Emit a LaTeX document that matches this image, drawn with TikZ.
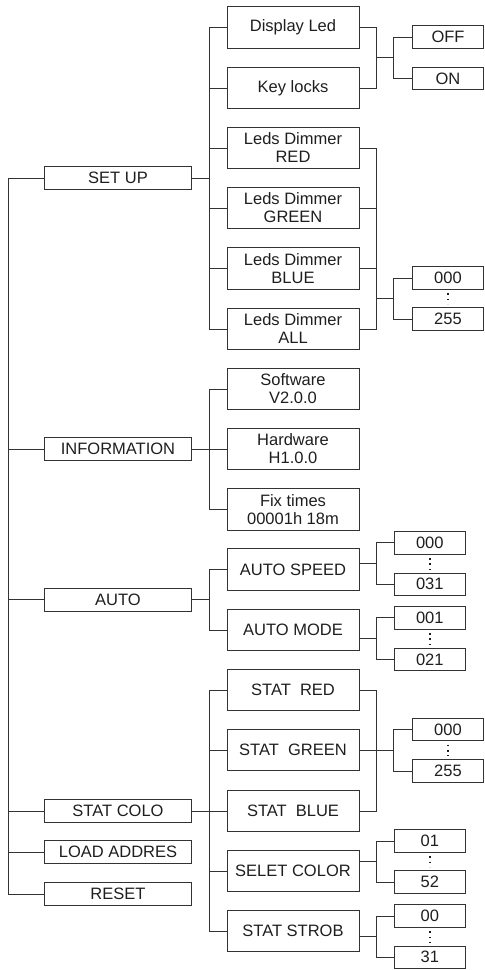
\documentclass[tikz,border=0pt]{standalone}
\usepackage{fontspec}
\setmainfont{Liberation Sans}
\usetikzlibrary{calc}
\definecolor{ink}{HTML}{333333}
\definecolor{print}{HTML}{1E1E1E}

\tikzset{
  box/.style={draw=ink, line width=0.9pt, text=print, inner sep=0pt, align=center,
    font=\fontsize{16.5}{18}\selectfont},
  menu/.style={box, minimum width=147.4pt, minimum height=23pt},
  sub/.style={box, minimum width=132pt, minimum height=41.7pt},
  val/.style={box, minimum width=70.7pt, minimum height=22.7pt},
  wire/.style={draw=ink, line width=0.9pt},
  dots/.style={draw=print, line width=1.6pt, dash pattern=on 1.6pt off 3.75pt}
}

\begin{document}
\begin{tikzpicture}[x=1pt, y=-1pt]
  \useasboundingbox (0,0) rectangle (485,970);

  % main menu
  \node[menu] (setup)    at (118,178)   {SET UP};
  \node[menu] (info)     at (118,449)   {INFORMATION};
  \node[menu] (auto)     at (118,599.7) {AUTO};
  \node[menu] (statcolo) at (118,811)   {STAT COLO};
  \node[menu] (load)     at (118,852)   {LOAD ADDRES};
  \node[menu] (reset)    at (118,894)   {RESET};

  % sub menus
  \node[sub] (disp)  at (293,27.5)  {Display Led};
  \node[sub] (key)   at (293,88)    {Key locks};
  \node[sub] (ldr)   at (293,148)   {Leds Dimmer\\RED};
  \node[sub] (ldg)   at (293,208)   {Leds Dimmer\\GREEN};
  \node[sub] (ldb)   at (293,268.5) {Leds Dimmer\\BLUE};
  \node[sub] (lda)   at (293,329)   {Leds Dimmer\\ALL};
  \node[sub] (sw)    at (293,389)   {Software\\V2.0.0};
  \node[sub] (hw)    at (293,449)   {Hardware\\H1.0.0};
  \node[sub] (fix)   at (293,509.5) {Fix times\\00001h 18m};
  \node[sub] (aspd)  at (293,569.7) {AUTO SPEED};
  \node[sub] (amode) at (293,630)   {AUTO MODE};
  \node[sub] (sred)  at (293,690)   {STAT~~RED};
  \node[sub] (sgrn)  at (293,750)   {STAT~~GREEN};
  \node[sub] (sblu)  at (293,811)   {STAT~~BLUE};
  \node[sub] (selet) at (293,871)   {SELET COLOR};
  \node[sub] (strob) at (293,931)   {STAT STROB};

  % values
  \node[val] (off)  at (448,37)    {OFF};
  \node[val] (on)   at (448,78.5)  {ON};
  \node[val] (d000) at (448,278)   {000};
  \node[val] (d255) at (448,319)   {255};
  \node[val] (a000) at (429.8,542.7) {000};
  \node[val] (a031) at (429.8,584.3) {031};
  \node[val] (m001) at (429.8,617.7) {001};
  \node[val] (m021) at (429.8,659.5) {021};
  \node[val] (s000) at (448,729.5) {000};
  \node[val] (s255) at (448,771)   {255};
  \node[val] (c01)  at (429.8,841)   {01};
  \node[val] (c52)  at (429.8,882)   {52};
  \node[val] (t00)  at (429.8,916)   {00};
  \node[val] (t31)  at (429.8,957.3) {31};

  % trunk on the left
  \coordinate (trunk) at ([xshift=-35.8pt]setup.west);
  \draw[wire] (setup.west) -- (trunk) |- (reset.west);
  \foreach \n in {info,auto,statcolo,load}
    \draw[wire] (\n.west) -- (\n.west -| trunk);

  % SET UP
  \coordinate (j1) at ([xshift=17.6pt]setup.east);
  \draw[wire] (setup.east) -- (j1);
  \draw[wire] (disp.west) -| (j1) |- (lda.west);
  \foreach \n in {key,ldr,ldg,ldb}
    \draw[wire] (\n.west) -- (\n.west -| j1);

  % INFORMATION
  \coordinate (j2) at ([xshift=17.6pt]info.east);
  \draw[wire] (info.east) -- (hw.west);
  \draw[wire] (sw.west) -| (j2) |- (fix.west);

  % AUTO
  \coordinate (j3) at ([xshift=17.6pt]auto.east);
  \draw[wire] (auto.east) -- (j3);
  \draw[wire] (aspd.west) -| (j3) |- (amode.west);

  % STAT COLO
  \coordinate (j4) at ([xshift=17.6pt]statcolo.east);
  \draw[wire] (statcolo.east) -- (sblu.west);
  \draw[wire] (sred.west) -| (j4) |- (strob.west);
  \foreach \n in {sgrn,selet}
    \draw[wire] (\n.west) -- (\n.west -| j4);

  % OFF / ON
  \coordinate (k1) at ($(off.west)!.5!(on.west) - (18.4,0)$);
  \coordinate (h1) at ($(k1) - (17.6,0)$);
  \draw[wire] (disp.east) -| (h1) |- (key.east);
  \draw[wire] (h1) -- (k1);
  \draw[wire] (off.west) -| (k1) |- (on.west);

  % dimmer values
  \coordinate (k2) at ($(d000.west)!.5!(d255.west) - (18.4,0)$);
  \coordinate (h2) at ($(k2) - (17.6,0)$);
  \draw[wire] (ldr.east) -| (h2) |- (lda.east);
  \foreach \n in {ldg,ldb}
    \draw[wire] (\n.east) -- (\n.east -| h2);
  \draw[wire] (h2) -- (k2);
  \draw[wire] (d000.west) -| (k2) |- (d255.west);

  % colour values
  \coordinate (k3) at ($(s000.west)!.5!(s255.west) - (18.4,0)$);
  \coordinate (h3) at ($(k3) - (17.6,0)$);
  \draw[wire] (sred.east) -| (h3) |- (sblu.east);
  \draw[wire] (sgrn.east) -- (sgrn.east -| h3);
  \draw[wire] (h3) -- (k3);
  \draw[wire] (s000.west) -| (k3) |- (s255.west);

  % short value lists
  \foreach \a/\b/\s in {a000/a031/aspd, m001/m021/amode, c01/c52/selet, t00/t31/strob}{
    \coordinate (k) at ($(\a.west)!.5!(\b.west) - (17.6,0)$);
    \draw[wire] (\s.east |- k) -- (k);
    \draw[wire] (\a.west) -| (k) |- (\b.west);
  }

  % dots between values
  \foreach \a/\b in {d000/d255, a000/a031, m001/m021, s000/s255, c01/c52, t00/t31}
    \draw[dots] ([yshift=-3.4pt]\a.south) -- ([yshift=3.3pt]\b.north);
\end{tikzpicture}
\end{document}
